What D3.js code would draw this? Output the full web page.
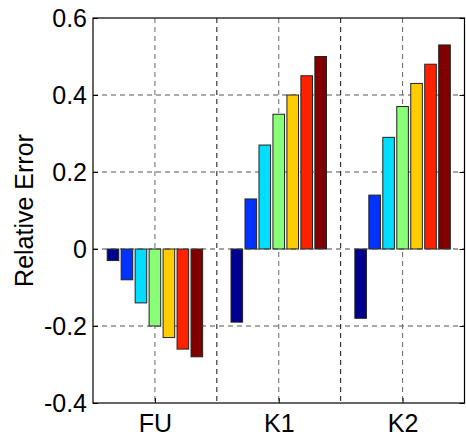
<!DOCTYPE html>
<html>
<head>
<meta charset="utf-8">
<script src="https://cdn.jsdelivr.net/npm/d3@7"></script>
<style>
  body { margin: 0; background: #fff; }
  text { font-family: "Liberation Sans", Arial, sans-serif; }
</style>
</head>
<body>
<script>
'use strict';

// chart data
const categories = ["FU", "K1", "K2"];
const seriesNames = ["s1", "s2", "s3", "s4", "s5", "s6", "s7"];
const seriesColors = ["#00008f", "#0033ff", "#00ddff", "#88ff77", "#ffcc00", "#ff2200", "#800000"];
const valuesFU = [-0.03, -0.08, -0.14, -0.20, -0.23, -0.26, -0.28];
const valuesK1 = [-0.19, 0.13, 0.27, 0.35, 0.40, 0.45, 0.50];
const valuesK2 = [-0.18, 0.14, 0.29, 0.37, 0.43, 0.48, 0.53];
const yTicks = [-0.4, -0.2, 0, 0.2, 0.4, 0.6];
const yTickLabels = ["-0.4", "-0.2", "0", "0.2", "0.4", "0.6"];

const groups = [valuesFU, valuesK1, valuesK2];

const width = 466, height = 436;
const margin = {top: 18, right: 1.5, bottom: 33, left: 93};

const svg = d3.select("body").append("svg")
  .attr("width", width)
  .attr("height", height);

// x as numeric position like matlab: groups at 1..3, limits 0.5..3.5
const x = d3.scaleLinear()
  .domain([0.5, 3.5])
  .range([margin.left, width - margin.right]);

const y = d3.scaleLinear()
  .domain([-0.4, 0.6])
  .range([height - margin.bottom, margin.top]);

const groupWidth = 0.79;
const step = groupWidth / seriesNames.length;
const barW = step * 0.83;

// grid lines
const grid = svg.append("g");
[0.2, 0.4, -0.2].forEach(v => {
  grid.append("line")
    .attr("x1", x(0.5)).attr("x2", x(3.5))
    .attr("y1", y(v)).attr("y2", y(v))
    .attr("stroke", "#555").attr("stroke-width", 1)
    .attr("stroke-dasharray", "5,4");
});
[1, 1.5, 2, 2.5, 3].forEach(v => {
  grid.append("line")
    .attr("x1", x(v)).attr("x2", x(v))
    .attr("y1", y(0.6)).attr("y2", y(-0.4))
    .attr("stroke", Number.isInteger(v) ? "#666" : "#111").attr("stroke-width", 1)
    .attr("stroke-dasharray", "5,4");
});

// bars
groups.forEach((vals, gi) => {
  vals.forEach((v, si) => {
    const cx = (gi + 1) - groupWidth / 2 + step * (si + 0.5);
    svg.append("rect")
      .attr("x", x(cx) - (x(barW) - x(0)) / 2)
      .attr("width", x(barW) - x(0))
      .attr("y", y(Math.max(0, v)))
      .attr("height", Math.abs(y(v) - y(0)))
      .attr("fill", seriesColors[si])
      .attr("stroke", "#222")
      .attr("stroke-width", 1);
  });
});

// zero line, dashed over bars
svg.append("line")
  .attr("x1", x(0.5)).attr("x2", x(3.5))
  .attr("y1", y(0)).attr("y2", y(0))
  .attr("stroke", "#444").attr("stroke-width", 1)
  .attr("stroke-dasharray", "5,4");

// frame
svg.append("rect")
  .attr("x", x(0.5)).attr("y", y(0.6))
  .attr("width", x(3.5) - x(0.5))
  .attr("height", y(-0.4) - y(0.6))
  .attr("fill", "none")
  .attr("stroke", "#000").attr("stroke-width", 1.2);

// y axis (inward ticks)
const yAxis = d3.axisLeft(y)
  .tickValues(yTicks)
  .tickFormat((d, i) => yTickLabels[i])
  .tickSizeInner(-5)
  .tickSizeOuter(0)
  .tickPadding(6);
const gy = svg.append("g")
  .attr("transform", "translate(" + x(0.5) + ",0)")
  .call(yAxis);
gy.select(".domain").remove();
gy.selectAll("text").style("font-size", "25px").style("font-family", "'Liberation Sans', Arial, sans-serif").attr("fill", "#000");

// right side ticks
const gyR = svg.append("g")
  .attr("transform", "translate(" + x(3.5) + ",0)")
  .call(d3.axisRight(y).tickValues(yTicks).tickSizeInner(-5).tickSizeOuter(0).tickFormat(""));
gyR.select(".domain").remove();

// x axis labels
const xAxis = d3.axisBottom(x)
  .tickValues([1, 2, 3])
  .tickFormat((d, i) => categories[i])
  .tickSizeInner(-5)
  .tickSizeOuter(0)
  .tickPadding(11);
const gx = svg.append("g")
  .attr("transform", "translate(0," + y(-0.4) + ")")
  .call(xAxis);
gx.select(".domain").remove();
gx.selectAll("text").style("font-size", "25px").style("font-family", "'Liberation Sans', Arial, sans-serif").attr("fill", "#000");

// y label
svg.append("text")
  .attr("transform", "translate(33," + ((y(0.6) + y(-0.4)) / 2) + ")rotate(-90)")
  .attr("text-anchor", "middle")
  .style("font-size", "25px")
  .text("Relative Error");
</script>
</body>
</html>
